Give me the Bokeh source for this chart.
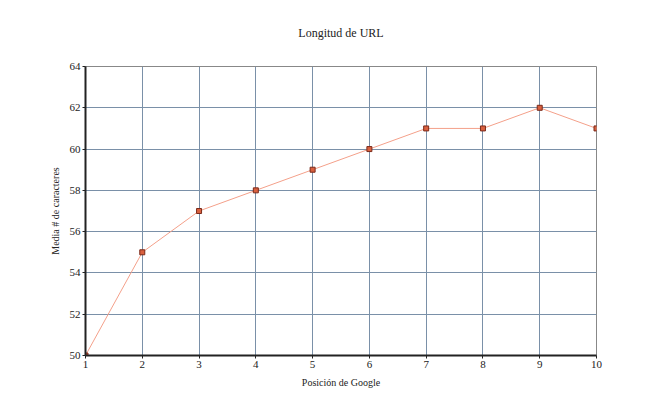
from bokeh.plotting import figure
from bokeh.models import FixedTicker, Range1d
from bokeh.embed import file_html
from bokeh.resources import INLINE

positions = [1, 2, 3, 4, 5, 6, 7, 8, 9, 10]
avg_chars = [50, 55, 57, 58, 59, 60, 61, 61, 62, 61]
y_ticks = [50, 52, 54, 56, 58, 60, 62, 64]

FONT = "Liberation Serif"

p = figure(width=655, height=397, output_backend="svg", toolbar_location=None,
           x_range=Range1d(1, 10), y_range=Range1d(50, 64),
           frame_width=511, frame_height=289,
           min_border_left=85, min_border_right=59, min_border_top=66, min_border_bottom=42,
           title="Longitud de URL")
p.title.align = "center"
p.title.vertical_align = "top"
p.title.text_font = FONT
p.title.text_font_size = "12px"
p.title.text_font_style = "normal"
p.title.text_color = "#222222"
p.title.offset = 0
p.title.standoff = 50

p.outline_line_color = "#888888"
p.outline_line_width = 1

for ax in (p.xaxis, p.yaxis):
    ax.axis_line_color = "#222222"
    ax.axis_line_width = 2
    ax.major_tick_line_color = "#222222"
    ax.major_tick_out = 3
    ax.major_tick_in = 0
    ax.minor_tick_line_color = None
    ax.major_label_text_font = FONT
    ax.major_label_text_font_size = "11px"
    ax.major_label_text_color = "#222222"
    ax.axis_label_text_font = FONT
    ax.axis_label_text_font_size = "10px"
    ax.axis_label_text_font_style = "normal"
    ax.axis_label_text_color = "#222222"

p.xaxis.ticker = FixedTicker(ticks=positions)
p.yaxis.ticker = FixedTicker(ticks=y_ticks)
p.xaxis.axis_label = "Posición de Google"
p.yaxis.axis_label = "Media # de caracteres"
p.xaxis.major_label_standoff = 2
p.yaxis.major_label_standoff = 2
p.xaxis.axis_label_standoff = 6
p.yaxis.axis_label_standoff = 6

p.xgrid.grid_line_color = "#7a90a8"
p.ygrid.grid_line_color = "#7a90a8"
p.xgrid.grid_line_width = 1
p.ygrid.grid_line_width = 1

p.line(positions, avg_chars, line_color="#f4a08a", line_width=1)
p.scatter(positions, avg_chars, marker="square", size=5,
          fill_color="#d9603f", line_color="#7a2a1a", line_width=1)

open("out.html", "w").write(file_html(p, INLINE))
